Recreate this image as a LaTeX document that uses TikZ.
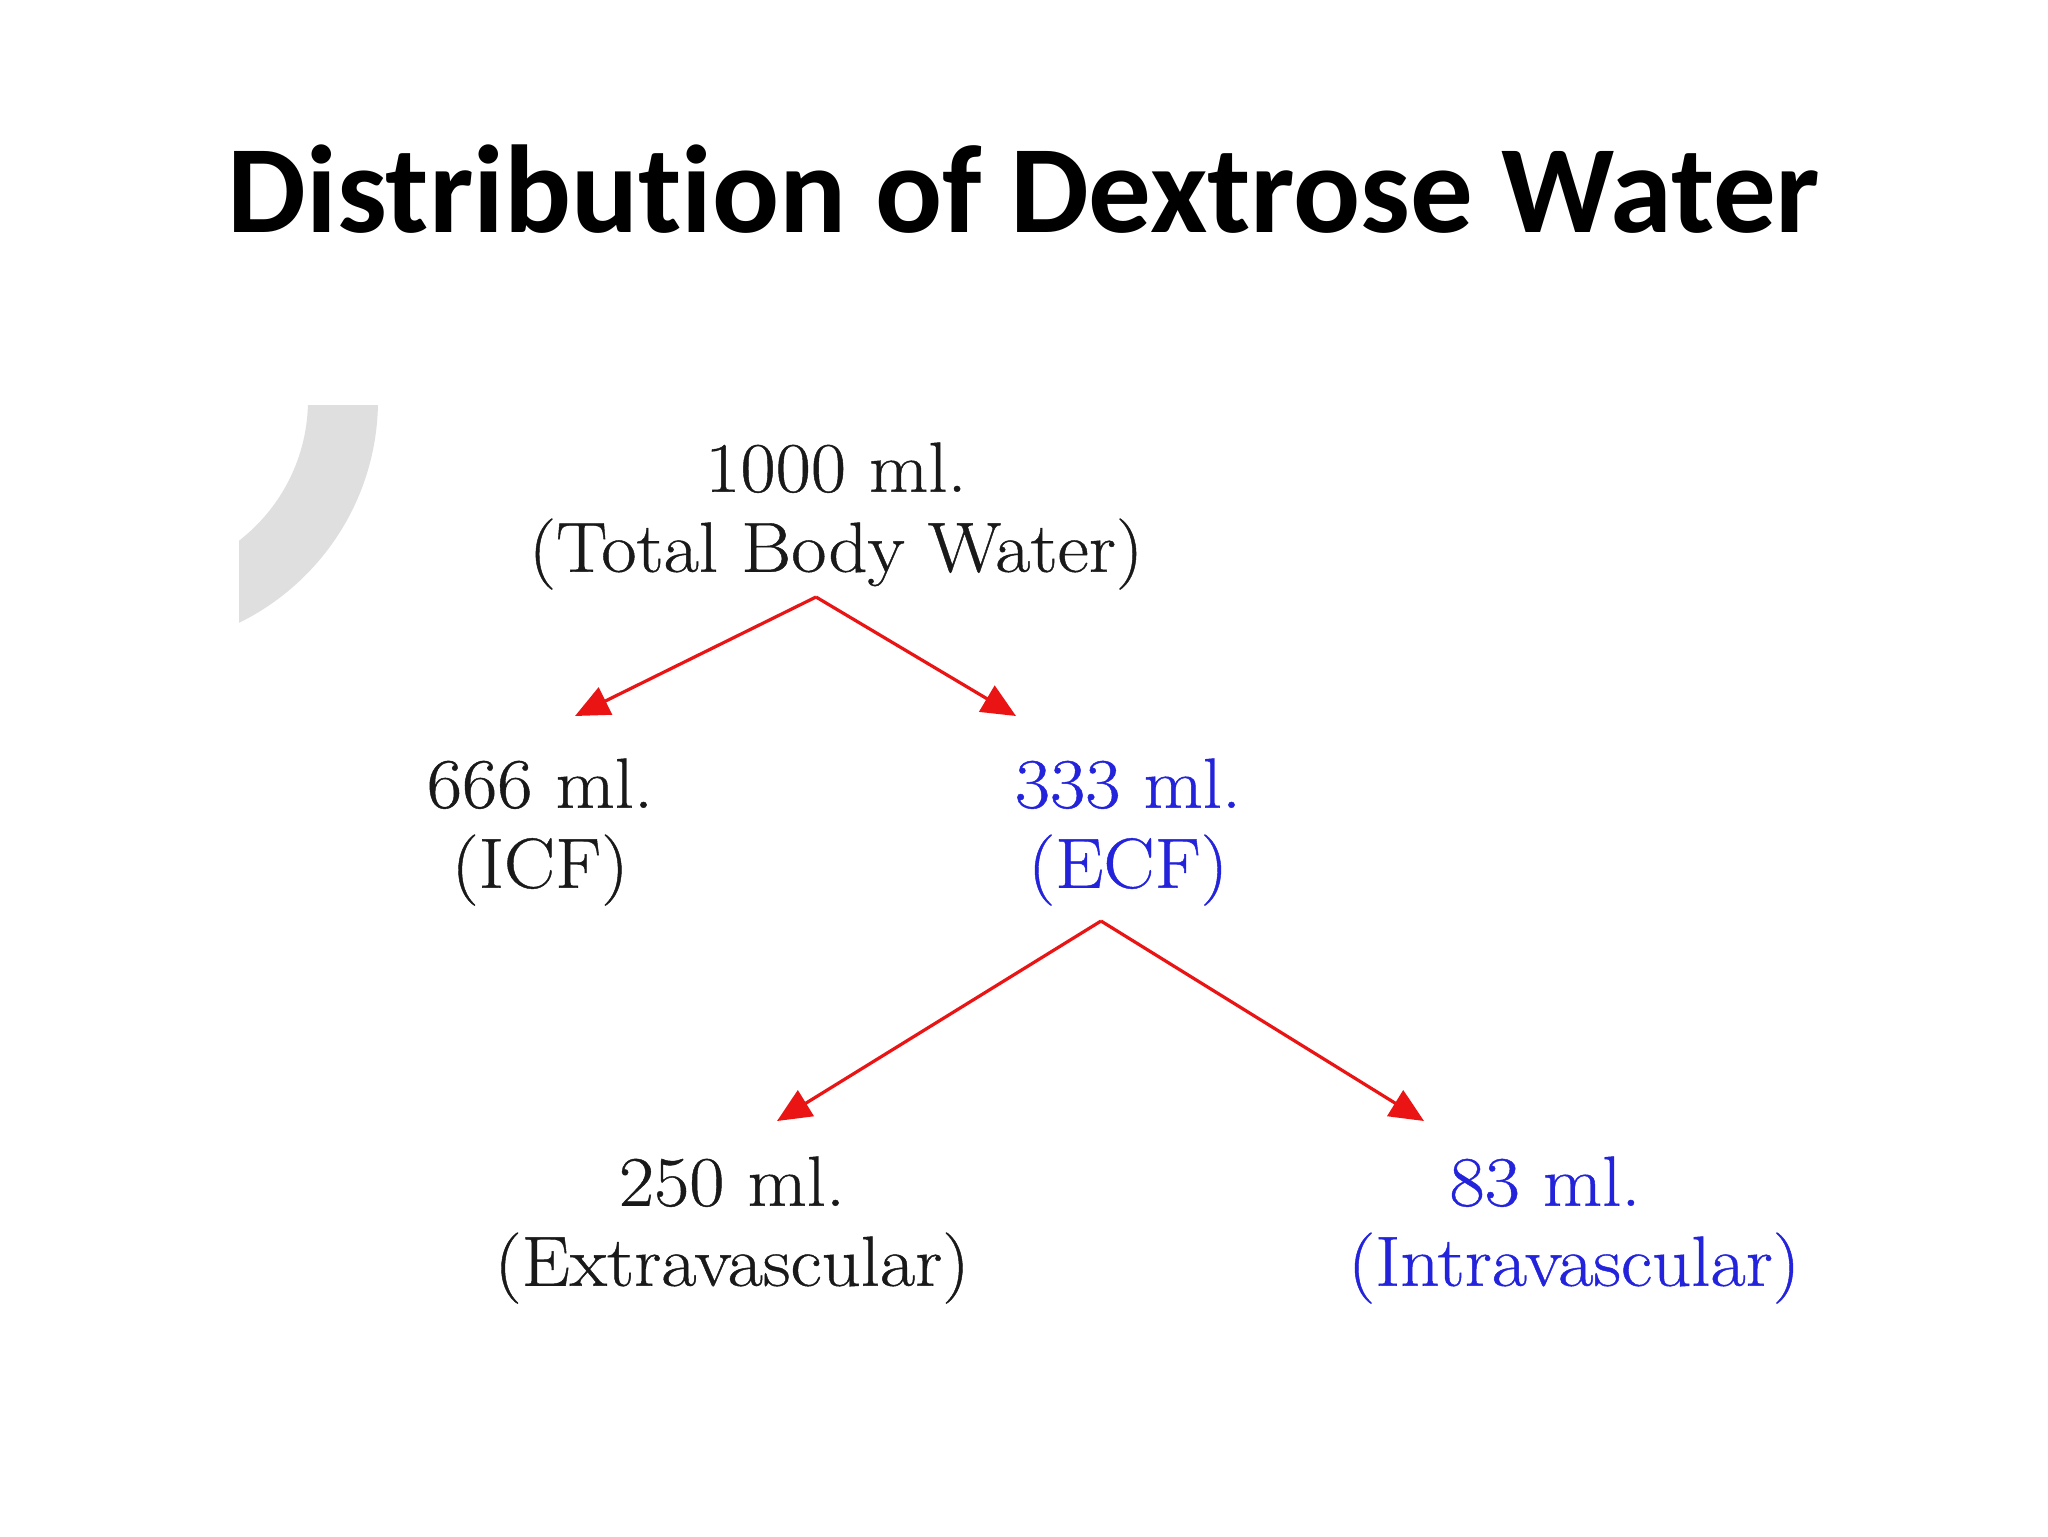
\documentclass[tikz,border=0pt]{standalone}
\usepackage{fontspec}
\setmainfont{Latin Modern Roman}[FakeStretch=1.08, FakeBold=0.6]
\newfontfamily\titlefont{Carlito}[Ligatures=NoCommon]
\usetikzlibrary{arrows.meta}
\definecolor{arrowred}{RGB}{235,20,20}
\definecolor{valblue}{RGB}{35,35,220}
\definecolor{txtblack}{RGB}{25,25,25}
\definecolor{ringgray}{RGB}{223,223,223}
\begin{document}
\begin{tikzpicture}[x=0.5pt,y=-0.5pt,
  lbl/.style={font=\fontsize{35.5}{40}\selectfont, align=center, inner sep=0pt, text=txtblack},
  bluelbl/.style={lbl, text=valblue},
  conn/.style={draw=arrowred, line width=1.6pt, -{Triangle[length=17pt,width=15pt]}}]
\useasboundingbox (0,0) rectangle (2048,1536);
\fill[white] (0,0) rectangle (2048,1536);
\begin{scope}
  \clip (239,405) rectangle (420,640);
  \fill[ringgray, even odd rule] (130,400) circle[radius=248] (130,400) circle[radius=178];
\end{scope}
\node[font=\titlefont\bfseries\fontsize{62.5}{72}\selectfont, anchor=base, inner sep=0pt] (title) at (1024,232) {Distribution of Dextrose Water};
\node[lbl] (tbw) at (836,516) {1000 ml.\\(Total Body Water)};
\node[lbl] (icf) at (540,832) {666 ml.\\(ICF)};
\node[bluelbl] (ecf) at (1128,832) {333 ml.\\(ECF)};
\node[lbl] (ev) at (732,1230) {250 ml.\\(Extravascular)};
\node[bluelbl] (iv) at (1574,1230) {83 ml.\hspace*{29pt}\\(Intravascular)};
\coordinate (s1) at (816,597);
\coordinate (t1) at (575,716);
\coordinate (t2) at (1016,716);
\coordinate (s2) at (1101,921);
\coordinate (t3) at (777,1121);
\coordinate (t4) at (1424,1121);
\draw[conn] (s1) -- (t1);
\draw[conn] (s1) -- (t2);
\draw[conn] (s2) -- (t3);
\draw[conn] (s2) -- (t4);
\end{tikzpicture}
\end{document}
